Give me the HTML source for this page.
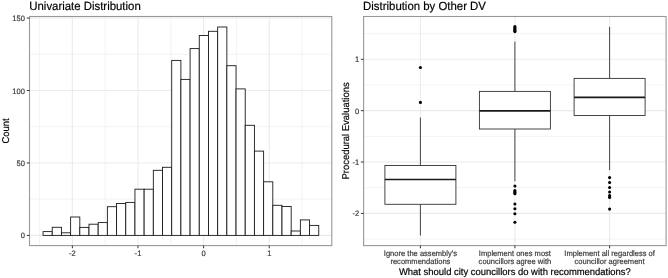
<!DOCTYPE html><html><head><meta charset="utf-8"><style>html,body{margin:0;padding:0;background:#fff;}svg{display:block;filter:blur(0.35px);}text{font-family:"Liberation Sans",sans-serif;text-rendering:geometricPrecision;}</style></head><body>
<svg width="668" height="278" viewBox="0 0 668 278">
<rect x="0" y="0" width="668" height="278" fill="#fff"/>
<line x1="39.55" y1="16.50" x2="39.55" y2="245.60" stroke="#ebebeb" stroke-width="0.6"/>
<line x1="105.17" y1="16.50" x2="105.17" y2="245.60" stroke="#ebebeb" stroke-width="0.6"/>
<line x1="170.79" y1="16.50" x2="170.79" y2="245.60" stroke="#ebebeb" stroke-width="0.6"/>
<line x1="236.41" y1="16.50" x2="236.41" y2="245.60" stroke="#ebebeb" stroke-width="0.6"/>
<line x1="302.03" y1="16.50" x2="302.03" y2="245.60" stroke="#ebebeb" stroke-width="0.6"/>
<line x1="29.50" y1="199.18" x2="331.80" y2="199.18" stroke="#ebebeb" stroke-width="0.6"/>
<line x1="29.50" y1="126.72" x2="331.80" y2="126.72" stroke="#ebebeb" stroke-width="0.6"/>
<line x1="29.50" y1="54.28" x2="331.80" y2="54.28" stroke="#ebebeb" stroke-width="0.6"/>
<line x1="72.36" y1="16.50" x2="72.36" y2="245.60" stroke="#ebebeb" stroke-width="1.1"/>
<line x1="137.98" y1="16.50" x2="137.98" y2="245.60" stroke="#ebebeb" stroke-width="1.1"/>
<line x1="203.60" y1="16.50" x2="203.60" y2="245.60" stroke="#ebebeb" stroke-width="1.1"/>
<line x1="269.22" y1="16.50" x2="269.22" y2="245.60" stroke="#ebebeb" stroke-width="1.1"/>
<line x1="29.50" y1="235.40" x2="331.80" y2="235.40" stroke="#ebebeb" stroke-width="1.1"/>
<line x1="29.50" y1="162.95" x2="331.80" y2="162.95" stroke="#ebebeb" stroke-width="1.1"/>
<line x1="29.50" y1="90.50" x2="331.80" y2="90.50" stroke="#ebebeb" stroke-width="1.1"/>
<line x1="29.50" y1="18.05" x2="331.80" y2="18.05" stroke="#ebebeb" stroke-width="1.1"/>
<rect x="43.05" y="231.60" width="9.19" height="3.80" fill="#fff" stroke="#1a1a1a" stroke-width="0.9"/>
<rect x="52.24" y="227.30" width="9.19" height="8.10" fill="#fff" stroke="#1a1a1a" stroke-width="0.9"/>
<rect x="61.43" y="232.80" width="9.19" height="2.60" fill="#fff" stroke="#1a1a1a" stroke-width="0.9"/>
<rect x="70.62" y="217.00" width="9.19" height="18.40" fill="#fff" stroke="#1a1a1a" stroke-width="0.9"/>
<rect x="79.81" y="227.40" width="9.19" height="8.00" fill="#fff" stroke="#1a1a1a" stroke-width="0.9"/>
<rect x="89.00" y="224.20" width="9.19" height="11.20" fill="#fff" stroke="#1a1a1a" stroke-width="0.9"/>
<rect x="98.19" y="222.60" width="9.19" height="12.80" fill="#fff" stroke="#1a1a1a" stroke-width="0.9"/>
<rect x="107.38" y="206.70" width="9.19" height="28.70" fill="#fff" stroke="#1a1a1a" stroke-width="0.9"/>
<rect x="116.57" y="203.50" width="9.19" height="31.90" fill="#fff" stroke="#1a1a1a" stroke-width="0.9"/>
<rect x="125.76" y="202.40" width="9.19" height="33.00" fill="#fff" stroke="#1a1a1a" stroke-width="0.9"/>
<rect x="134.95" y="189.20" width="9.19" height="46.20" fill="#fff" stroke="#1a1a1a" stroke-width="0.9"/>
<rect x="144.14" y="189.20" width="9.19" height="46.20" fill="#fff" stroke="#1a1a1a" stroke-width="0.9"/>
<rect x="153.33" y="170.30" width="9.19" height="65.10" fill="#fff" stroke="#1a1a1a" stroke-width="0.9"/>
<rect x="162.52" y="167.30" width="9.19" height="68.10" fill="#fff" stroke="#1a1a1a" stroke-width="0.9"/>
<rect x="171.71" y="60.40" width="9.19" height="175.00" fill="#fff" stroke="#1a1a1a" stroke-width="0.9"/>
<rect x="180.90" y="79.40" width="9.19" height="156.00" fill="#fff" stroke="#1a1a1a" stroke-width="0.9"/>
<rect x="190.09" y="48.60" width="9.19" height="186.80" fill="#fff" stroke="#1a1a1a" stroke-width="0.9"/>
<rect x="199.28" y="35.50" width="9.19" height="199.90" fill="#fff" stroke="#1a1a1a" stroke-width="0.9"/>
<rect x="208.47" y="31.30" width="9.19" height="204.10" fill="#fff" stroke="#1a1a1a" stroke-width="0.9"/>
<rect x="217.66" y="27.00" width="9.19" height="208.40" fill="#fff" stroke="#1a1a1a" stroke-width="0.9"/>
<rect x="226.85" y="65.70" width="9.19" height="169.70" fill="#fff" stroke="#1a1a1a" stroke-width="0.9"/>
<rect x="236.04" y="88.90" width="9.19" height="146.50" fill="#fff" stroke="#1a1a1a" stroke-width="0.9"/>
<rect x="245.23" y="125.30" width="9.19" height="110.10" fill="#fff" stroke="#1a1a1a" stroke-width="0.9"/>
<rect x="254.42" y="151.10" width="9.19" height="84.30" fill="#fff" stroke="#1a1a1a" stroke-width="0.9"/>
<rect x="263.61" y="181.80" width="9.19" height="53.60" fill="#fff" stroke="#1a1a1a" stroke-width="0.9"/>
<rect x="272.80" y="205.30" width="9.19" height="30.10" fill="#fff" stroke="#1a1a1a" stroke-width="0.9"/>
<rect x="281.99" y="206.50" width="9.19" height="28.90" fill="#fff" stroke="#1a1a1a" stroke-width="0.9"/>
<rect x="291.18" y="231.00" width="9.19" height="4.40" fill="#fff" stroke="#1a1a1a" stroke-width="0.9"/>
<rect x="300.37" y="219.90" width="9.19" height="15.50" fill="#fff" stroke="#1a1a1a" stroke-width="0.9"/>
<rect x="309.56" y="225.40" width="9.19" height="10.00" fill="#fff" stroke="#1a1a1a" stroke-width="0.9"/>
<rect x="29.5" y="16.5" width="302.30" height="229.10" fill="none" stroke="#989898" stroke-width="1.1"/>
<line x1="72.36" y1="245.60" x2="72.36" y2="248.30" stroke="#333333" stroke-width="1.0"/>
<text transform="translate(72.36,255.60) scale(1,1.04)" font-size="7.55" fill="#3a3a3a" stroke="#3a3a3a" stroke-width="0.18" text-anchor="middle">-2</text>
<line x1="137.98" y1="245.60" x2="137.98" y2="248.30" stroke="#333333" stroke-width="1.0"/>
<text transform="translate(137.98,255.60) scale(1,1.04)" font-size="7.55" fill="#3a3a3a" stroke="#3a3a3a" stroke-width="0.18" text-anchor="middle">-1</text>
<line x1="203.60" y1="245.60" x2="203.60" y2="248.30" stroke="#333333" stroke-width="1.0"/>
<text transform="translate(203.60,255.60) scale(1,1.04)" font-size="7.55" fill="#3a3a3a" stroke="#3a3a3a" stroke-width="0.18" text-anchor="middle">0</text>
<line x1="269.22" y1="245.60" x2="269.22" y2="248.30" stroke="#333333" stroke-width="1.0"/>
<text transform="translate(269.22,255.60) scale(1,1.04)" font-size="7.55" fill="#3a3a3a" stroke="#3a3a3a" stroke-width="0.18" text-anchor="middle">1</text>
<line x1="26.80" y1="235.40" x2="29.50" y2="235.40" stroke="#333333" stroke-width="1.0"/>
<text transform="translate(24.90,238.40) scale(1,1.04)" font-size="7.55" fill="#3a3a3a" stroke="#3a3a3a" stroke-width="0.18" text-anchor="end">0</text>
<line x1="26.80" y1="162.95" x2="29.50" y2="162.95" stroke="#333333" stroke-width="1.0"/>
<text transform="translate(24.90,165.95) scale(1,1.04)" font-size="7.55" fill="#3a3a3a" stroke="#3a3a3a" stroke-width="0.18" text-anchor="end">50</text>
<line x1="26.80" y1="90.50" x2="29.50" y2="90.50" stroke="#333333" stroke-width="1.0"/>
<text transform="translate(24.90,93.50) scale(1,1.04)" font-size="7.55" fill="#3a3a3a" stroke="#3a3a3a" stroke-width="0.18" text-anchor="end">100</text>
<line x1="26.80" y1="18.05" x2="29.50" y2="18.05" stroke="#333333" stroke-width="1.0"/>
<text transform="translate(24.90,21.05) scale(1,1.04)" font-size="7.55" fill="#3a3a3a" stroke="#3a3a3a" stroke-width="0.18" text-anchor="end">150</text>
<text transform="translate(8.60,130.90) rotate(-90) scale(1,1.04)" font-size="9.45" fill="#000" stroke="#000" stroke-width="0.18" text-anchor="middle">Count</text>
<text transform="translate(29.30,9.90) scale(1,1.04)" font-size="11.4" fill="#000" stroke="#000" stroke-width="0.18">Univariate Distribution</text>
<line x1="363.60" y1="239.09" x2="666.10" y2="239.09" stroke="#ebebeb" stroke-width="0.6"/>
<line x1="363.60" y1="187.72" x2="666.10" y2="187.72" stroke="#ebebeb" stroke-width="0.6"/>
<line x1="363.60" y1="136.35" x2="666.10" y2="136.35" stroke="#ebebeb" stroke-width="0.6"/>
<line x1="363.60" y1="84.98" x2="666.10" y2="84.98" stroke="#ebebeb" stroke-width="0.6"/>
<line x1="363.60" y1="33.62" x2="666.10" y2="33.62" stroke="#ebebeb" stroke-width="0.6"/>
<line x1="363.60" y1="213.41" x2="666.10" y2="213.41" stroke="#ebebeb" stroke-width="1.1"/>
<line x1="363.60" y1="162.04" x2="666.10" y2="162.04" stroke="#ebebeb" stroke-width="1.1"/>
<line x1="363.60" y1="110.67" x2="666.10" y2="110.67" stroke="#ebebeb" stroke-width="1.1"/>
<line x1="363.60" y1="59.30" x2="666.10" y2="59.30" stroke="#ebebeb" stroke-width="1.1"/>
<line x1="420.40" y1="16.50" x2="420.40" y2="245.60" stroke="#ebebeb" stroke-width="1.1"/>
<line x1="514.90" y1="16.50" x2="514.90" y2="245.60" stroke="#ebebeb" stroke-width="1.1"/>
<line x1="609.60" y1="16.50" x2="609.60" y2="245.60" stroke="#ebebeb" stroke-width="1.1"/>
<line x1="420.40" y1="117.50" x2="420.40" y2="165.50" stroke="#333333" stroke-width="0.9"/>
<line x1="420.40" y1="204.30" x2="420.40" y2="235.50" stroke="#333333" stroke-width="0.9"/>
<rect x="384.90" y="165.50" width="71.00" height="38.80" fill="#fff" stroke="#333333" stroke-width="0.9"/>
<line x1="384.90" y1="179.50" x2="455.90" y2="179.50" stroke="#1a1a1a" stroke-width="1.6"/>
<circle cx="420.40" cy="67.50" r="1.55" fill="#000"/>
<circle cx="420.40" cy="102.40" r="1.55" fill="#000"/>
<line x1="514.90" y1="41.60" x2="514.90" y2="91.40" stroke="#333333" stroke-width="0.9"/>
<line x1="514.90" y1="129.00" x2="514.90" y2="181.30" stroke="#333333" stroke-width="0.9"/>
<rect x="479.40" y="91.40" width="71.00" height="37.60" fill="#fff" stroke="#333333" stroke-width="0.9"/>
<line x1="479.40" y1="110.90" x2="550.40" y2="110.90" stroke="#1a1a1a" stroke-width="1.6"/>
<circle cx="514.90" cy="26.60" r="1.55" fill="#000"/>
<circle cx="514.90" cy="27.80" r="1.55" fill="#000"/>
<circle cx="514.90" cy="28.80" r="1.55" fill="#000"/>
<circle cx="514.90" cy="29.80" r="1.55" fill="#000"/>
<circle cx="514.90" cy="30.70" r="1.55" fill="#000"/>
<circle cx="514.90" cy="31.60" r="1.55" fill="#000"/>
<circle cx="514.90" cy="186.00" r="1.55" fill="#000"/>
<circle cx="514.90" cy="190.50" r="1.55" fill="#000"/>
<circle cx="514.90" cy="191.70" r="1.55" fill="#000"/>
<circle cx="514.90" cy="192.80" r="1.55" fill="#000"/>
<circle cx="514.90" cy="193.80" r="1.55" fill="#000"/>
<circle cx="514.90" cy="204.00" r="1.55" fill="#000"/>
<circle cx="514.90" cy="208.70" r="1.55" fill="#000"/>
<circle cx="514.90" cy="213.80" r="1.55" fill="#000"/>
<circle cx="514.90" cy="222.20" r="1.55" fill="#000"/>
<line x1="609.60" y1="26.90" x2="609.60" y2="78.40" stroke="#333333" stroke-width="0.9"/>
<line x1="609.60" y1="115.50" x2="609.60" y2="170.00" stroke="#333333" stroke-width="0.9"/>
<rect x="574.10" y="78.40" width="71.00" height="37.10" fill="#fff" stroke="#333333" stroke-width="0.9"/>
<line x1="574.10" y1="97.40" x2="645.10" y2="97.40" stroke="#1a1a1a" stroke-width="1.6"/>
<circle cx="609.60" cy="177.60" r="1.55" fill="#000"/>
<circle cx="609.60" cy="182.50" r="1.55" fill="#000"/>
<circle cx="609.60" cy="187.50" r="1.55" fill="#000"/>
<circle cx="609.60" cy="192.00" r="1.55" fill="#000"/>
<circle cx="609.60" cy="195.60" r="1.55" fill="#000"/>
<circle cx="609.60" cy="197.40" r="1.55" fill="#000"/>
<circle cx="609.60" cy="209.10" r="1.55" fill="#000"/>
<rect x="363.6" y="16.5" width="302.50" height="229.10" fill="none" stroke="#989898" stroke-width="1.1"/>
<line x1="360.90" y1="213.41" x2="363.60" y2="213.41" stroke="#333333" stroke-width="1.0"/>
<text transform="translate(359.20,216.41) scale(1,1.04)" font-size="7.55" fill="#3a3a3a" stroke="#3a3a3a" stroke-width="0.18" text-anchor="end">-2</text>
<line x1="360.90" y1="162.04" x2="363.60" y2="162.04" stroke="#333333" stroke-width="1.0"/>
<text transform="translate(359.20,165.04) scale(1,1.04)" font-size="7.55" fill="#3a3a3a" stroke="#3a3a3a" stroke-width="0.18" text-anchor="end">-1</text>
<line x1="360.90" y1="110.67" x2="363.60" y2="110.67" stroke="#333333" stroke-width="1.0"/>
<text transform="translate(359.20,113.67) scale(1,1.04)" font-size="7.55" fill="#3a3a3a" stroke="#3a3a3a" stroke-width="0.18" text-anchor="end">0</text>
<line x1="360.90" y1="59.30" x2="363.60" y2="59.30" stroke="#333333" stroke-width="1.0"/>
<text transform="translate(359.20,62.30) scale(1,1.04)" font-size="7.55" fill="#3a3a3a" stroke="#3a3a3a" stroke-width="0.18" text-anchor="end">1</text>
<line x1="420.40" y1="245.60" x2="420.40" y2="248.30" stroke="#333333" stroke-width="1.0"/>
<text transform="translate(420.40,256.00) scale(1,1.04)" font-size="7.55" fill="#3a3a3a" stroke="#3a3a3a" stroke-width="0.18" text-anchor="middle">Ignore the assembly's</text>
<text transform="translate(420.40,263.80) scale(1,1.04)" font-size="7.55" fill="#3a3a3a" stroke="#3a3a3a" stroke-width="0.18" text-anchor="middle">recommendations</text>
<line x1="514.90" y1="245.60" x2="514.90" y2="248.30" stroke="#333333" stroke-width="1.0"/>
<text transform="translate(514.90,256.00) scale(1,1.04)" font-size="7.55" fill="#3a3a3a" stroke="#3a3a3a" stroke-width="0.18" text-anchor="middle">Implement ones most</text>
<text transform="translate(514.90,263.80) scale(1,1.04)" font-size="7.55" fill="#3a3a3a" stroke="#3a3a3a" stroke-width="0.18" text-anchor="middle">councillors agree with</text>
<line x1="609.60" y1="245.60" x2="609.60" y2="248.30" stroke="#333333" stroke-width="1.0"/>
<text transform="translate(609.60,256.00) scale(1,1.04)" font-size="7.55" fill="#3a3a3a" stroke="#3a3a3a" stroke-width="0.18" text-anchor="middle">Implement all regardless of</text>
<text transform="translate(609.60,263.80) scale(1,1.04)" font-size="7.55" fill="#3a3a3a" stroke="#3a3a3a" stroke-width="0.18" text-anchor="middle">councillor agreement</text>
<text transform="translate(514.85,274.70) scale(1,1.04)" font-size="9.45" fill="#000" stroke="#000" stroke-width="0.18" text-anchor="middle">What should city councillors do with recommendations?</text>
<text transform="translate(348.60,130.90) rotate(-90) scale(1,1.04)" font-size="9.45" fill="#000" stroke="#000" stroke-width="0.18" text-anchor="middle">Procedural Evaluations</text>
<text transform="translate(363.10,9.90) scale(1,1.04)" font-size="11.4" fill="#000" stroke="#000" stroke-width="0.18">Distribution by Other DV</text>
</svg></body></html>
